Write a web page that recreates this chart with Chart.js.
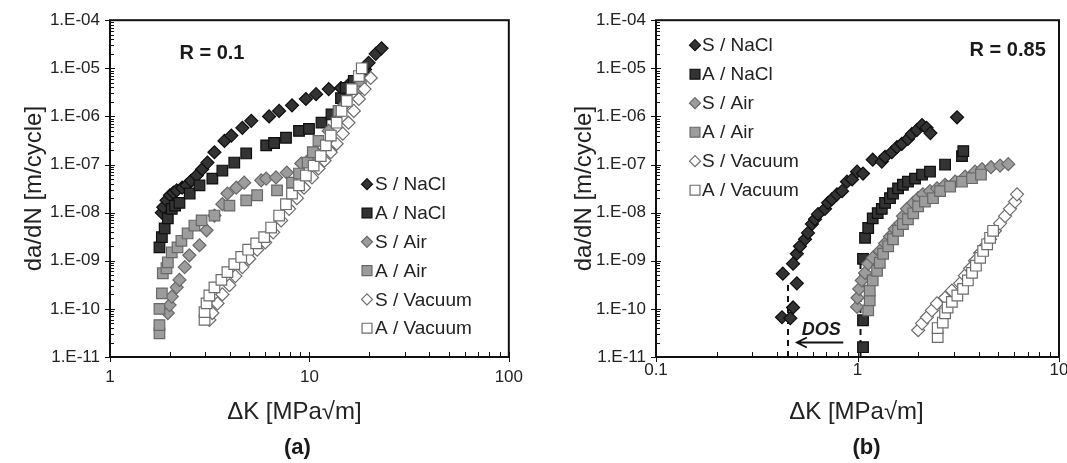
<!DOCTYPE html>
<html>
<head>
<meta charset="utf-8">
<script src="https://cdn.jsdelivr.net/npm/chart.js@4/dist/chart.umd.min.js"></script>
<style>
  html, body { margin: 0; background: #fff; overflow: hidden; }
  #wrap { position: relative; width: 1067px; height: 463px; }
  .panel { position: absolute; top: 0; }
</style>
</head>
<body>
<div id="wrap">
  <canvas id="panelA" class="panel" style="left:0" width="533" height="463"></canvas>
  <canvas id="panelB" class="panel" style="left:533px" width="545" height="463"></canvas>
</div>
<script>
const FONT = "Arial, 'Liberation Sans', Helvetica, sans-serif";

const seriesLabels = ['S / NaCl', 'A / NaCl', 'S / Air', 'A / Air', 'S / Vacuum', 'A / Vacuum'];

// axis decades and their printed labels
const yDecades = [1e-11, 1e-10, 1e-9, 1e-8, 1e-7, 1e-6, 1e-5, 1e-4];
const yLabels = ['1.E-11', '1.E-10', '1.E-09', '1.E-08', '1.E-07', '1.E-06', '1.E-05', '1.E-04'];
const xDecadesA = [1, 10, 100];
const xLabelsA = ['1', '10', '100'];
const xDecadesB = [0.1, 1, 10];
const xLabelsB = ['0.1', '1', '10'];

// ---- R = 0.1  [dK (MPa*m^0.5), da/dN (m/cycle)] ----
const r01_sNaCl = [
  [1.82, 1.0e-8], [1.85, 1.3e-8], [1.92, 1.8e-8], [2.0, 2.3e-8], [2.08, 2.6e-8], [2.16, 2.9e-8],
  [2.3, 3.3e-8], [2.42, 3.7e-8], [2.55, 4.6e-8], [2.72, 5.9e-8], [2.9, 8.0e-8], [3.08, 1.1e-7],
  [3.34, 1.8e-7], [3.75, 3.1e-7], [4.06, 4.0e-7], [4.61, 5.8e-7], [5.11, 8.1e-7], [6.28, 1.0e-6],
  [7.05, 1.3e-6], [8.18, 1.7e-6], [9.6, 2.3e-6], [10.8, 2.9e-6], [12.5, 3.7e-6], [14.4, 3.9e-6],
  [16.1, 5.0e-6], [18.1, 6.9e-6], [19.0, 9.5e-6], [19.8, 1.3e-5], [21.5, 2.0e-5], [23.0, 2.6e-5]
];
const r01_aNaCl = [
  [1.77, 1.9e-9], [1.82, 3.1e-9], [1.88, 4.7e-9], [1.95, 7.6e-9], [2.04, 1.2e-8], [2.12, 1.4e-8],
  [2.23, 1.6e-8], [2.51, 2.5e-8], [2.81, 3.7e-8], [3.26, 5.1e-8], [3.66, 7.5e-8], [4.2, 1.1e-7],
  [4.82, 1.7e-7], [6.07, 2.5e-7], [6.65, 2.8e-7], [7.63, 3.6e-7], [8.87, 5.0e-7], [9.95, 5.5e-7],
  [11.5, 7.4e-7], [12.9, 1.1e-6], [14.4, 2.4e-6], [15.2, 3.9e-6], [16.7, 5.5e-6]
];
const r01_sAir = [
  [1.95, 8.2e-11], [1.99, 1.2e-10], [2.04, 1.8e-10], [2.16, 2.8e-10], [2.23, 4.0e-10], [2.37, 7.4e-10],
  [2.5, 1.3e-9], [2.81, 2.1e-9], [3.05, 4.3e-9], [3.34, 8.7e-9], [3.66, 1.5e-8], [3.88, 2.5e-8],
  [4.3, 3.3e-8], [4.71, 4.2e-8], [5.73, 4.7e-8], [6.07, 5.1e-8], [6.8, 5.4e-8], [7.7, 6.8e-8],
  [9.1, 1.05e-7], [10.2, 1.4e-7], [10.8, 1.8e-7], [12.5, 5.0e-7], [14.9, 1.7e-6], [17.5, 3.5e-6]
];
const r01_aAir = [
  [1.77, 3.1e-11], [1.77, 4.6e-11], [1.77, 1.0e-10], [1.82, 2.1e-10], [1.84, 5.5e-10], [1.92, 7.0e-10],
  [1.95, 9.3e-10], [2.04, 1.5e-9], [2.18, 1.9e-9], [2.28, 2.6e-9], [2.45, 3.7e-9], [2.65, 5.4e-9],
  [2.88, 6.9e-9], [3.34, 8.7e-9], [3.97, 1.4e-8], [4.82, 1.8e-8], [5.47, 2.3e-8], [6.88, 2.9e-8],
  [8.18, 4.2e-8], [8.87, 6.5e-8], [9.8, 1.1e-7], [10.4, 1.8e-7], [11.1, 3.1e-7], [14.0, 1.3e-6],
  [18.1, 5.5e-6]
];
const r01_sVac = [
  [3.15, 5.9e-11], [3.26, 8.2e-11], [3.46, 1.3e-10], [3.66, 2.0e-10], [3.97, 3.1e-10], [4.25, 4.8e-10],
  [4.61, 7.4e-10], [4.99, 1.1e-9], [5.47, 1.7e-9], [6.0, 2.4e-9], [6.58, 3.9e-9], [7.21, 6.9e-9],
  [7.91, 1.2e-8], [8.66, 2.0e-8], [9.4, 3.3e-8], [10.3, 5.4e-8], [11.1, 8.3e-8], [11.9, 1.2e-7],
  [12.8, 1.8e-7], [13.7, 2.7e-7], [14.7, 4.4e-7], [15.7, 7.4e-7], [16.7, 1.3e-6], [17.7, 2.3e-6],
  [18.9, 3.7e-6], [20.3, 6.3e-6]
];
const r01_aVac = [
  [2.98, 5.9e-11], [2.98, 8.6e-11], [3.05, 1.3e-10], [3.15, 1.9e-10], [3.34, 2.8e-10], [3.62, 4.0e-10],
  [3.88, 5.8e-10], [4.2, 8.5e-10], [4.55, 1.2e-9], [4.93, 1.7e-9], [5.41, 2.3e-9], [5.93, 3.1e-9],
  [6.43, 4.9e-9], [7.05, 8.7e-9], [7.63, 1.5e-8], [8.18, 2.5e-8], [8.87, 3.7e-8], [9.6, 5.9e-8],
  [10.5, 9.5e-8], [11.4, 1.5e-7], [12.1, 2.5e-7], [12.8, 4.0e-7], [13.7, 7.4e-7], [14.5, 1.3e-6],
  [15.4, 2.1e-6], [16.3, 3.7e-6], [17.7, 6.9e-6], [18.3, 1.0e-5]
];

// ---- R = 0.85 ----
const r085_sNaCl = [
  [0.422, 6.7e-11], [0.464, 6.4e-11], [0.479, 1.07e-10], [0.426, 5.4e-10], [0.50, 3.4e-10], [0.479, 8.7e-10],
  [0.50, 1.4e-9], [0.518, 2.0e-9], [0.549, 2.8e-9], [0.568, 3.8e-9], [0.594, 5.8e-9], [0.615, 7.3e-9],
  [0.637, 9.3e-9], [0.69, 1.2e-8], [0.714, 1.6e-8], [0.747, 1.9e-8], [0.791, 2.4e-8], [0.838, 2.8e-8],
  [0.887, 4.4e-8], [0.94, 4.9e-8], [0.995, 7.1e-8], [1.065, 6.5e-8], [1.19, 1.26e-7], [1.32, 1.15e-7],
  [1.37, 1.45e-7], [1.48, 1.8e-7], [1.57, 2.3e-7], [1.66, 2.7e-7], [1.78, 3.4e-7], [1.86, 4.3e-7],
  [1.97, 5.2e-7], [2.09, 6.6e-7], [2.2, 5.8e-7], [2.3, 4.5e-7], [3.12, 9.6e-7]
];
const r085_aNaCl = [
  [1.065, 1.6e-11], [1.065, 5.8e-11], [1.065, 1.1e-9], [1.09, 3.0e-9], [1.13, 4.8e-9], [1.19, 7.6e-9],
  [1.26, 9.8e-9], [1.32, 1.2e-8], [1.37, 1.6e-8], [1.45, 2.0e-8], [1.50, 2.5e-8], [1.59, 3.2e-8],
  [1.68, 3.8e-8], [1.78, 4.4e-8], [1.93, 5.1e-8], [2.09, 6.2e-8], [2.29, 7.1e-8], [2.72, 1.0e-7],
  [3.3, 1.5e-7], [3.35, 1.9e-7]
];
const r085_sAir = [
  [0.995, 1.1e-10], [1.0, 1.7e-10], [1.02, 2.6e-10], [1.05, 3.9e-10], [1.09, 5.6e-10], [1.13, 8.7e-10],
  [1.19, 1.15e-9], [1.29, 1.6e-9], [1.37, 2.3e-9], [1.45, 3.2e-9], [1.53, 4.6e-9], [1.63, 6.0e-9],
  [1.68, 8.5e-9], [1.76, 1.2e-8], [1.89, 1.6e-8], [2.0, 2.0e-8], [2.11, 2.4e-8], [2.29, 2.8e-8],
  [2.48, 3.2e-8], [2.72, 3.8e-8], [3.05, 4.4e-8], [3.42, 5.6e-8], [3.83, 7.1e-8], [4.15, 8.0e-8],
  [4.6, 8.8e-8], [5.1, 9.5e-8], [5.6, 1.02e-7]
];
const r085_aAir = [
  [1.13, 9.3e-11], [1.15, 1.5e-10], [1.15, 2.4e-10], [1.19, 3.9e-10], [1.25, 6.2e-10], [1.29, 9.1e-10],
  [1.34, 1.4e-9], [1.42, 2.0e-9], [1.50, 2.8e-9], [1.59, 4.2e-9], [1.68, 5.8e-9], [1.78, 7.3e-9],
  [1.89, 9.7e-9], [2.0, 1.35e-8], [2.16, 1.7e-8], [2.37, 2.0e-8], [2.57, 2.8e-8], [2.88, 3.5e-8],
  [3.3, 4.4e-8], [3.7, 5.2e-8], [4.1, 6.2e-8]
];
const r085_sVac = [
  [2.0, 3.6e-11], [2.09, 5.0e-11], [2.21, 6.7e-11], [2.34, 9.3e-11], [2.48, 1.3e-10], [2.72, 1.7e-10],
  [2.94, 2.4e-10], [3.23, 3.4e-10], [3.41, 4.9e-10], [3.62, 6.9e-10], [3.83, 1.0e-9], [4.06, 1.45e-9],
  [4.29, 2.0e-9], [4.55, 2.8e-9], [4.81, 4.2e-9], [5.1, 6.0e-9], [5.4, 8.5e-9], [5.71, 1.2e-8],
  [6.05, 1.7e-8], [6.19, 2.4e-8]
];
const r085_aVac = [
  [2.5, 2.6e-11], [2.5, 4.0e-11], [2.65, 5.2e-11], [2.72, 8.1e-11], [2.8, 1.07e-10], [2.94, 1.4e-10],
  [3.13, 1.9e-10], [3.34, 2.6e-10], [3.53, 3.9e-10], [3.70, 5.6e-10], [3.87, 7.9e-10], [4.06, 1.15e-9],
  [4.2, 1.6e-9], [4.4, 2.2e-9], [4.55, 3.0e-9], [4.71, 4.2e-9]
];

// threshold (DOS) guides for R = 0.85
const dosLineS = [[0.452, 1e-11], [0.452, 3.4e-10]];
const dosLineA = [[1.035, 1e-11], [1.035, 1.0e-9]];
const dosArrow = [[0.85, 2.0e-11], [0.50, 2.0e-11]];
const dosTextAt = [0.66, 3.6e-11];

const markerStyles = [
  { pointStyle: 'rectRot', radius: 6.5, fill: '#333333', edge: '#0e0e0e' },
  { pointStyle: 'rect', radius: 7.5, fill: '#333333', edge: '#0e0e0e' },
  { pointStyle: 'rectRot', radius: 6.5, fill: '#9c9c9c', edge: '#686868' },
  { pointStyle: 'rect', radius: 7.5, fill: '#9c9c9c', edge: '#686868' },
  { pointStyle: 'rectRot', radius: 6.5, fill: '#ffffff', edge: '#6c6c6c' },
  { pointStyle: 'rect', radius: 7.5, fill: '#ffffff', edge: '#6c6c6c' }
];

function toPoints(list) {
  return list.map(p => ({ x: p[0], y: p[1] }));
}

function seriesDatasets(seriesList) {
  return seriesList.map((pts, i) => ({
    label: seriesLabels[i],
    data: toPoints(pts),
    pointStyle: markerStyles[i].pointStyle,
    pointRadius: markerStyles[i].radius,
    pointBackgroundColor: markerStyles[i].fill,
    pointBorderColor: markerStyles[i].edge,
    pointBorderWidth: 1.2,
    showLine: false,
    inLegend: true,
    order: seriesList.length - i
  }));
}

function dashedGuide(pts) {
  return {
    data: toPoints(pts),
    showLine: true,
    borderColor: '#111',
    borderWidth: 2,
    borderDash: [6, 5],
    pointRadius: 0,
    fill: false,
    inLegend: false,
    order: 20
  };
}

// 1..9 per decade, decades flagged as major
function logTicks(decades) {
  const out = [];
  decades.forEach((d, i) => {
    if (i === decades.length - 1) { out.push({ value: d, major: true }); return; }
    for (let m = 1; m < 10; m++) {
      out.push({ value: +(d * m).toPrecision(6), major: m === 1 });
    }
  });
  return out;
}

function decadeLabel(value, decades, labels) {
  const i = decades.indexOf(value);
  return i >= 0 ? labels[i] : '';
}

function drawMarker(ctx, style, r, x, y) {
  ctx.beginPath();
  if (style === 'rectRot') {
    ctx.moveTo(x, y - r); ctx.lineTo(x + r, y); ctx.lineTo(x, y + r); ctx.lineTo(x - r, y);
    ctx.closePath();
  } else {
    const h = r * Math.SQRT1_2;
    ctx.rect(x - h, y - h, 2 * h, 2 * h);
  }
  ctx.fill();
  ctx.stroke();
}

// box frame + log tick marks (major cross the axis, minor sit inside)
const logFrame = {
  id: 'logFrame',
  afterDraw(chart) {
    const { ctx, chartArea: a, scales: { x, y } } = chart;
    ctx.save();
    ctx.strokeStyle = '#111';
    ctx.lineWidth = 2;
    ctx.strokeRect(a.left, a.top, a.right - a.left, a.bottom - a.top);
    ctx.lineWidth = 1;
    ctx.beginPath();
    y.ticks.forEach(t => {
      const py = Math.round(y.getPixelForValue(t.value)) + 0.5;
      if (t.major) { ctx.moveTo(a.left - 5, py); ctx.lineTo(a.left + 5, py); }
      else { ctx.moveTo(a.left, py); ctx.lineTo(a.left + 4, py); }
    });
    x.ticks.forEach(t => {
      const px = Math.round(x.getPixelForValue(t.value)) + 0.5;
      if (t.major) { ctx.moveTo(px, a.bottom - 5); ctx.lineTo(px, a.bottom + 5); }
      else { ctx.moveTo(px, a.bottom); ctx.lineTo(px, a.bottom - 5); }
    });
    ctx.stroke();
    ctx.restore();
  }
};

const markerLegend = {
  id: 'markerLegend',
  afterDraw(chart, args, opts) {
    const { ctx, chartArea: a } = chart;
    ctx.save();
    ctx.font = '19px ' + FONT;
    ctx.textBaseline = 'middle';
    ctx.lineWidth = 1.2;
    chart.data.datasets.filter(ds => ds.inLegend).forEach((ds, i) => {
      const x = a.left + opts.left;
      const y = a.top + opts.top + i * opts.gap;
      ctx.fillStyle = ds.pointBackgroundColor;
      ctx.strokeStyle = ds.pointBorderColor;
      drawMarker(ctx, ds.pointStyle, ds.pointStyle === 'rect' ? 7 : 5.5, x, y);
      ctx.fillStyle = '#222';
      ctx.fillText(ds.label, x + opts.textGap, y + 1);
    });
    ctx.restore();
  }
};

// R label, x-axis title, panel caption and the DOS arrow
const panelNotes = {
  id: 'panelNotes',
  afterDraw(chart, args, o) {
    const { ctx, chartArea: a, scales: { x, y } } = chart;
    const midX = (a.left + a.right) / 2;
    ctx.save();
    ctx.fillStyle = '#1a1a1a';
    ctx.textBaseline = 'middle';
    ctx.textAlign = 'left';
    ctx.font = 'bold 20px ' + FONT;
    ctx.fillText(o.rText, x.getPixelForValue(o.rAt[0]), y.getPixelForValue(o.rAt[1]));
    ctx.textAlign = 'center';
    ctx.fillStyle = '#222';
    ctx.font = '24px ' + FONT;
    ctx.fillText('ΔK [MPa√m]', midX + o.titleShift, 412);
    ctx.fillStyle = '#1a1a1a';
    ctx.font = 'bold 22px ' + FONT;
    ctx.fillText(o.caption, midX + o.captionShift, 448);
    if (o.arrow) {
      const x0 = x.getPixelForValue(o.arrow[0][0]);
      const x1 = x.getPixelForValue(o.arrow[1][0]);
      const yy = y.getPixelForValue(o.arrow[0][1]);
      ctx.strokeStyle = '#111';
      ctx.lineWidth = 1.8;
      ctx.beginPath();
      ctx.moveTo(x0, yy); ctx.lineTo(x1, yy);
      ctx.moveTo(x1 + 10, yy - 5); ctx.lineTo(x1, yy); ctx.lineTo(x1 + 10, yy + 5);
      ctx.stroke();
      ctx.font = 'italic bold 18px ' + FONT;
      ctx.fillText('DOS', x.getPixelForValue(o.arrowText[0]), y.getPixelForValue(o.arrowText[1]));
    }
    ctx.restore();
  }
};

function makePanel(canvasId, cfg) {
  const tickFont = { family: FONT, size: 17 };
  return new Chart(document.getElementById(canvasId), {
    type: 'scatter',
    data: { datasets: cfg.datasets },
    options: {
      responsive: false,
      animation: false,
      layout: { padding: { top: cfg.top, right: cfg.right, left: 0, bottom: 0 } },
      plugins: {
        legend: { display: false },
        tooltip: { enabled: false },
        markerLegend: cfg.legend,
        panelNotes: cfg.notes
      },
      scales: {
        x: {
          type: 'logarithmic',
          min: cfg.xDecades[0],
          max: cfg.xDecades[cfg.xDecades.length - 1],
          afterBuildTicks: s => { s.ticks = logTicks(cfg.xDecades); },
          afterFit: s => { s.height = 106; },
          grid: { display: false, drawTicks: false },
          border: { display: false },
          ticks: {
            autoSkip: false, maxRotation: 0, padding: cfg.xTickPad, color: '#222', font: tickFont,
            callback: v => decadeLabel(v, cfg.xDecades, cfg.xLabels)
          }
        },
        y: {
          type: 'logarithmic',
          min: yDecades[0],
          max: yDecades[yDecades.length - 1],
          afterBuildTicks: s => { s.ticks = logTicks(yDecades); },
          afterFit: s => { s.width = cfg.yWidth; },
          grid: { display: false, drawTicks: false },
          border: { display: false },
          ticks: {
            autoSkip: false, padding: 10, color: '#222', font: tickFont,
            callback: v => decadeLabel(v, yDecades, yLabels)
          },
          title: {
            display: true, text: 'da/dN [m/cycle]', color: '#222', font: { family: FONT, size: 24 },
            padding: { top: cfg.yTitlePad, bottom: 0 }
          }
        }
      }
    },
    plugins: [logFrame, markerLegend, panelNotes]
  });
}

makePanel('panelA', {
  datasets: seriesDatasets([r01_sNaCl, r01_aNaCl, r01_sAir, r01_aAir, r01_sVac, r01_aVac]),
  xDecades: xDecadesA, xLabels: xLabelsA, xTickPad: 10,
  top: 19, right: 21, yWidth: 110, yTitlePad: 20,
  legend: { left: 257, top: 164, gap: 28.8, textGap: 8 },
  notes: { rText: 'R = 0.1', rAt: [2.23, 2.0e-5], caption: '(a)', captionShift: -12, titleShift: -15 }
});

makePanel('panelB', {
  datasets: seriesDatasets([r085_sNaCl, r085_aNaCl, r085_sAir, r085_aAir, r085_sVac, r085_aVac])
    .concat([dashedGuide(dosLineS), dashedGuide(dosLineA)]),
  xDecades: xDecadesB, xLabels: xLabelsB, xTickPad: 3,
  top: 17, right: 19, yWidth: 123, yTitlePad: 37,
  legend: { left: 39, top: 25, gap: 29, textGap: 7 },
  notes: {
    rText: 'R = 0.85', rAt: [3.6, 2.4e-5], caption: '(b)', captionShift: 9, titleShift: -1,
    arrow: dosArrow, arrowText: dosTextAt
  }
});
</script>
</body>
</html>
